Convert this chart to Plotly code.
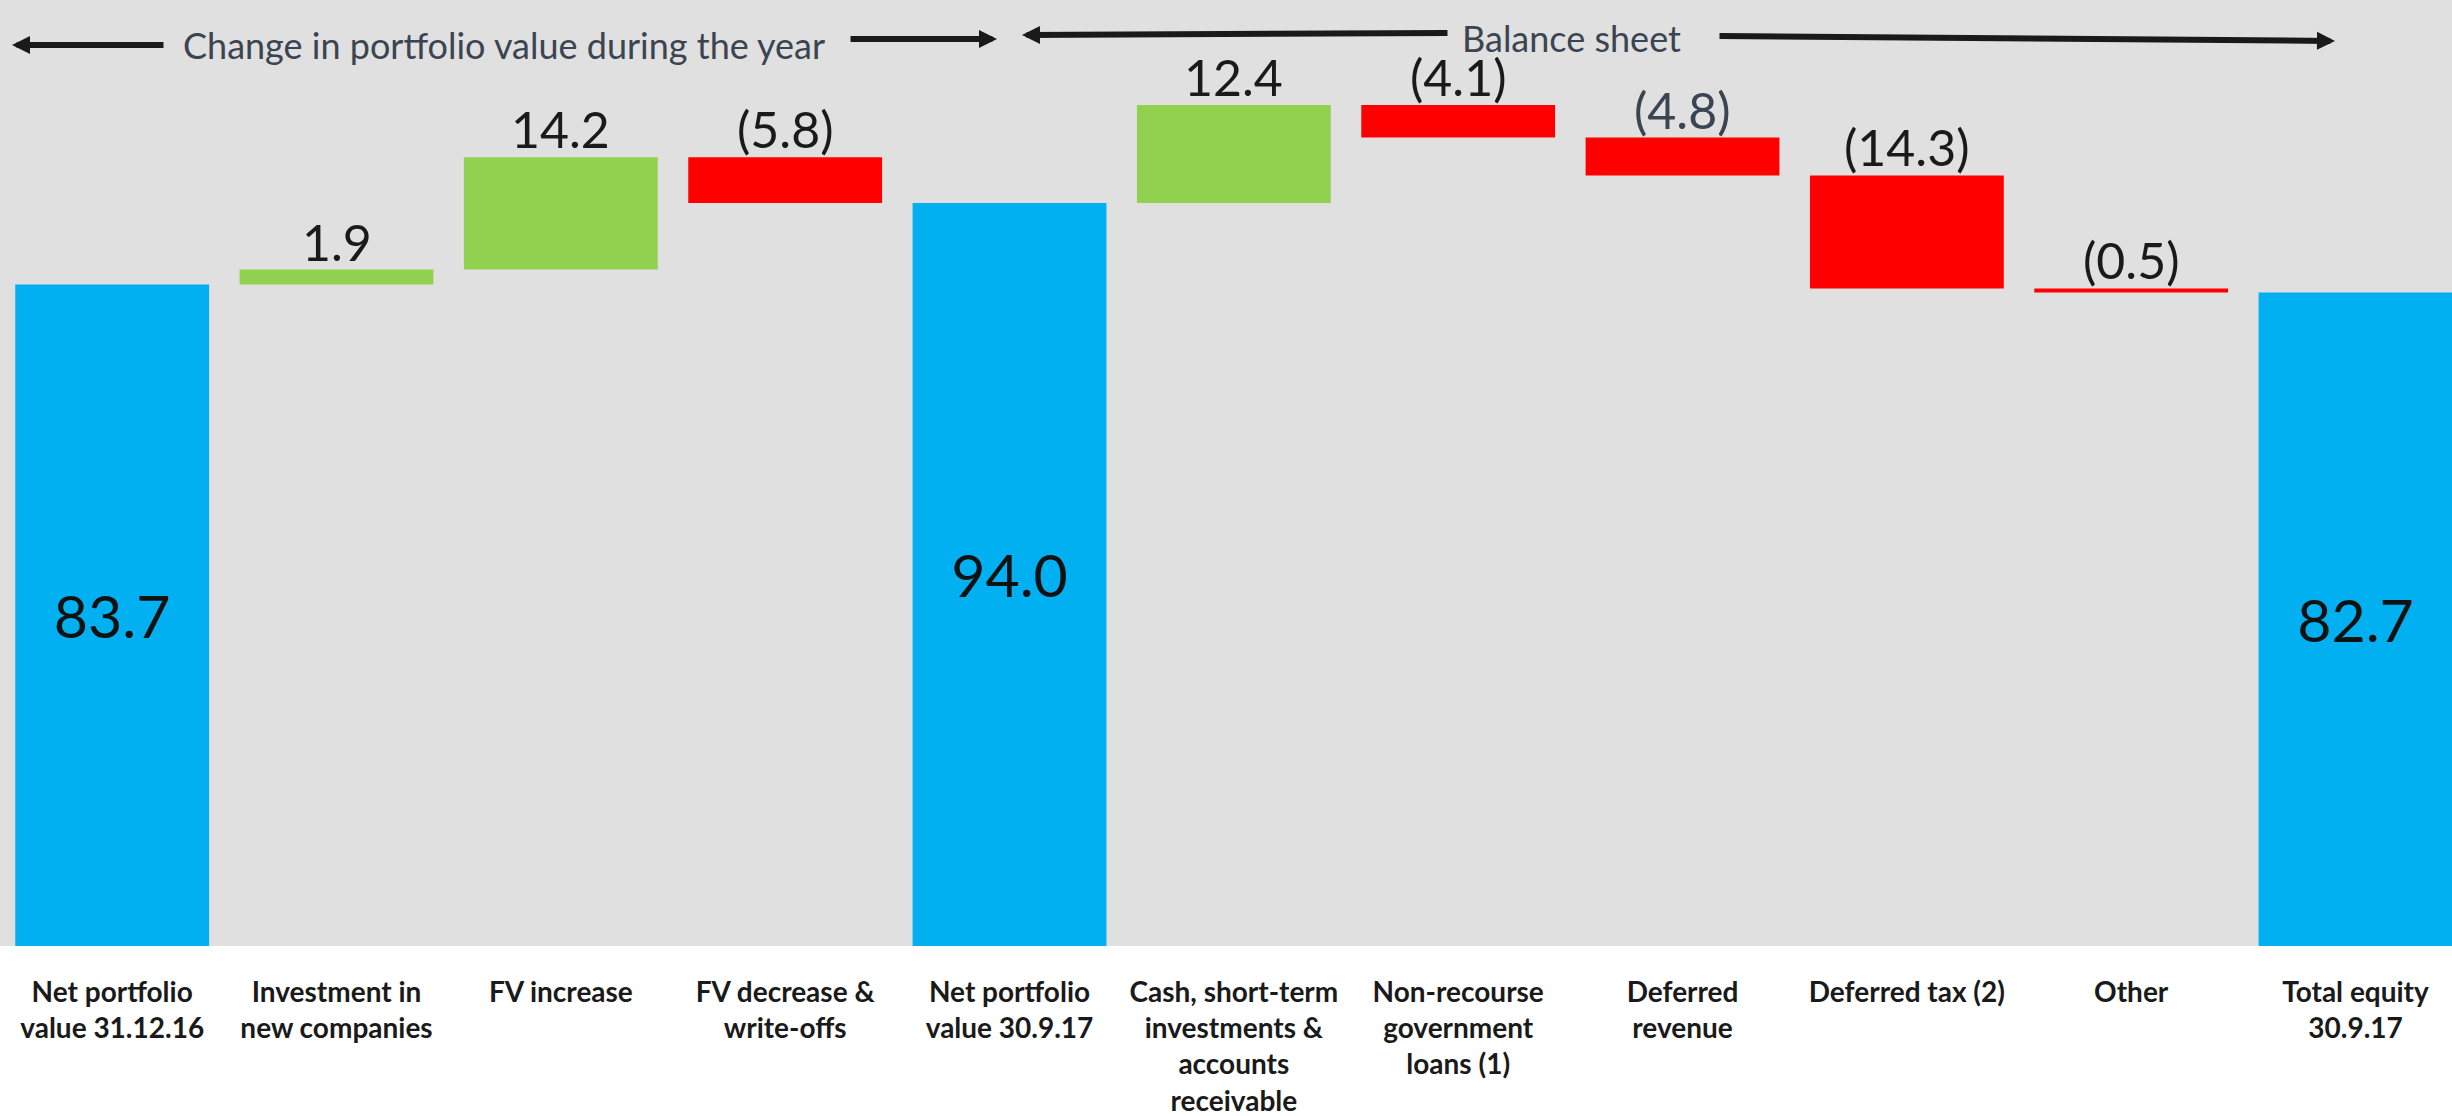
import plotly.graph_objects as go

# ---------------- data ----------------
categories = [
    "Net portfolio<br>value 31.12.16",
    "Investment in<br>new companies",
    "FV increase",
    "FV decrease &<br>write-offs",
    "Net portfolio<br>value 30.9.17",
    "Cash, short-term<br>investments &<br>accounts<br>receivable",
    "Non-recourse<br>government<br>loans (1)",
    "Deferred<br>revenue",
    "Deferred tax (2)",
    "Other",
    "Total equity<br>30.9.17",
]
values = [83.7, 1.9, 14.2, -5.8, 94.0, 12.4, -4.1, -4.8, -14.3, -0.5, 82.7]
measures = ["absolute", "relative", "relative", "relative", "total",
            "relative", "relative", "relative", "relative", "relative", "total"]
group_titles = ["Change in portfolio value during the year", "Balance sheet"]

# ---------------- styles ----------------
BLUE = "#00B0F0"
GREEN = "#92D050"
RED = "#FF0000"
BG = "#E0E0E0"
DARK = "#1A1A1A"
SLATE = "#3B4451"
FONT = "Lato"
label_colors = [DARK, DARK, DARK, DARK, DARK, DARK, DARK, SLATE, DARK, DARK, DARK]


def fmt(v):
    return f"({abs(v):.1f})" if v < 0 else f"{v:.1f}"


fig = go.Figure(go.Waterfall(
    x=categories,
    y=values,
    measure=measures,
    increasing=dict(marker=dict(color=GREEN)),
    decreasing=dict(marker=dict(color=RED)),
    totals=dict(marker=dict(color=BLUE)),
    connector=dict(visible=False),
    text=[fmt(v) if m != "relative" else "" for v, m in zip(values, measures)],
    textposition=["inside" if m != "relative" else "none" for m in measures],
    insidetextanchor="middle",
    insidetextfont=dict(family=FONT, size=59, color="#111111"),
    hoverinfo="skip",
))

# labels above the step bars (top of each floating bar from the running total)
annotations = []
running = 0.0
for cat, v, m, col in zip(categories, values, measures, label_colors):
    if m == "absolute":
        running = v
        continue
    if m == "total":
        continue
    before = running
    running = running + v
    top = max(before, running)
    annotations.append(dict(
        x=cat, y=top, xref="x", yref="y", text=fmt(v), showarrow=False,
        yanchor="bottom", yshift=-4,
        font=dict(family=FONT, size=50, color=col),
    ))

# group headers with arrows
PLOT_H = 946.0
W = 2452.0


def py(ypx):
    return (PLOT_H - ypx) / PLOT_H


arrows = [  # tip (x, y) in px, tail (x, y) in px
    ((12, 45), (165, 45)),
    ((997, 39), (849, 39)),
    ((1022, 35), (1449, 33)),
    ((2335, 41), (1718, 36)),
]
for (tx, ty), (sx, sy) in arrows:
    annotations.append(dict(
        x=tx / W, y=py(ty), xref="paper", yref="paper",
        ax=sx - tx, ay=sy - ty, axref="pixel", ayref="pixel",
        text="", showarrow=True, arrowhead=2, arrowsize=0.6,
        arrowwidth=6, arrowcolor=DARK, standoff=0,
    ))

annotations.append(dict(
    x=504 / W, y=py(45), xref="paper", yref="paper", text=group_titles[0],
    showarrow=False, xanchor="center", yanchor="middle",
    font=dict(family=FONT, size=36, color=SLATE),
))
annotations.append(dict(
    x=1571 / W, y=py(38), xref="paper", yref="paper", text=group_titles[1],
    showarrow=False, xanchor="center", yanchor="middle",
    font=dict(family=FONT, size=36, color=SLATE),
))

fig.update_layout(
    width=2452, height=1116,
    margin=dict(l=0, r=0, t=0, b=170, pad=0),
    paper_bgcolor="white",
    plot_bgcolor=BG,
    waterfallgap=0.136,
    showlegend=False,
    annotations=annotations,
    xaxis=dict(
        range=[-0.5, 10.43],
        showgrid=False, zeroline=False, showline=False,
        ticks="outside", ticklen=21, tickcolor="rgba(0,0,0,0)",
        tickfont=dict(family=FONT, size=28, color=DARK, weight="bold"),
        fixedrange=True, automargin=False,
    ),
    yaxis=dict(visible=False, range=[0, 119.7], fixedrange=True),
)

fig.write_html("out.html")
